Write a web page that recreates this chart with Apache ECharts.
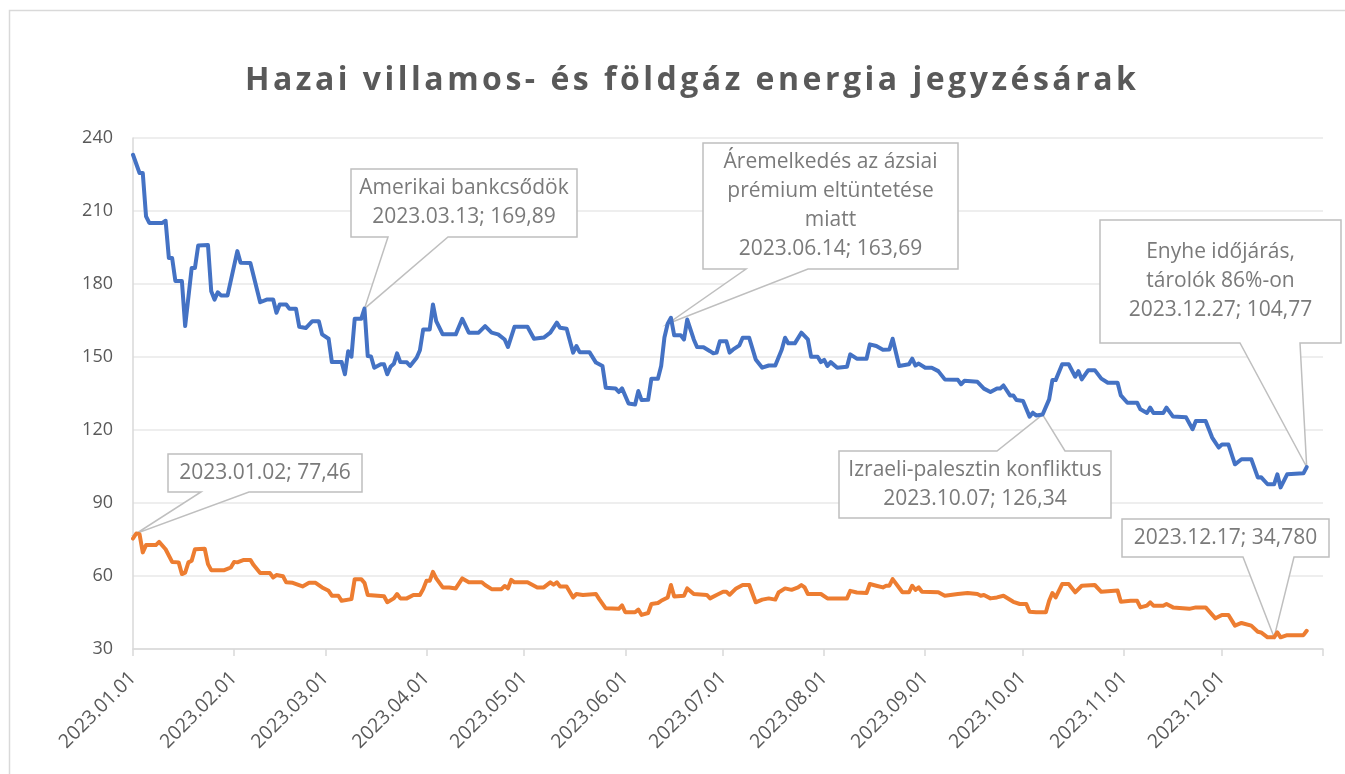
<!DOCTYPE html>
<html>
<head>
<meta charset="utf-8">
<script src="https://cdn.jsdelivr.net/npm/echarts@6/dist/echarts.min.js"></script>
<style>
html,body{margin:0;padding:0;background:#fff;}
#c{width:1345px;height:774px;}
</style>
</head>
<body>
<div id="c"></div>
<script>
// ---------------- DATA ----------------
const TITLE = 'Hazai villamos- és földgáz energia jegyzésárak';

// x axis: day of year 2023 (0 = 2023.01.01); ticks at month starts
const monthStartDays = [0, 31, 59, 90, 120, 151, 181, 212, 243, 273, 304, 334];
const monthLabels = ['2023.01.01','2023.02.01','2023.03.01','2023.04.01','2023.05.01','2023.06.01',
                     '2023.07.01','2023.08.01','2023.09.01','2023.10.01','2023.11.01','2023.12.01'];
const yearEndDay = 365;

// y axis ticks
const yMin = 30, yMax = 240, yStep = 30;

// Electricity price [day of year, value]
const electricity = [
 [0,233.1],[2,225.6],[3,225.6],[4,207.8],[5,205.1],[9,205.1],[10,206],[11,190.7],[12,190.7],[13,181.2],
 [15,181.2],[16,162.7],[18,186.6],[19,186.6],[20,195.8],[23,196],[24,177],[25,173.6],[26,176.6],[27,175.3],
 [29,175.3],[32,193.5],[33,188.7],[36,188.6],[39,172.5],[41,173.6],[43,173.6],[44,168.2],[45,171.6],[47,171.6],
 [48,169.8],[50,169.8],[51,162.4],[53,161.9],[55,164.7],[57,164.7],[58,159.3],[60,157.5],[61,147.9],[64,147.9],
 [65,142.9],[66,152.4],[67,150.1],[68,165.7],[70,165.7],[71,169.89],[72,150.4],[73,150.2],[74,145.6],[76,147],
 [77,147],[78,142.9],[79,146],[80,147.2],[81,151.5],[82,147.9],[84,147.8],[85,146.3],[87,149.7],[88,152.8],
 [89,161.3],[91,161.3],[92,171.6],[93,164.7],[95,159.3],[97,159.3],[99,159.3],[101,165.7],[103,160],[106,160],
 [108,162.7],[110,160],[112,159.3],[114,157.2],[115,154.1],[117,162.4],[121,162.4],[123,157.5],[126,158],[128,160],
 [130,164.1],[131,162],[133,161.6],[135,151.8],[136,154.5],[137,152],[140,152],[142,147.7],[144,146.3],[145,137.4],
 [148,137.1],[149,135.6],[150,137.1],[152,130.9],[154,130.5],[155,136],[156,132.3],[158,132.4],[159,141.1],[161,141.1],
 [162,146.3],[163,158],[164,163.69],[165,166.1],[166,158.9],[168,158.9],[169,157.2],[170,165.4],[172,157.2],[173,154.1],
 [175,154],[177,152.4],[178,151.5],[179,151.8],[180,156.5],[182,156.5],[183,151.8],[184,153],[186,154.8],[187,157.9],
 [189,157.9],[191,149],[193,145.6],[195,146.5],[197,146.5],[199,153.1],[200,157.9],[201,155.6],[203,155.6],[205,160],
 [207,157.2],[208,150.1],[210,150.1],[211,147.9],[212,148.8],[213,146.3],[214,147.9],[216,145.6],[219,146],[220,151.1],
 [222,149.3],[225,149.3],[226,155.2],[228,154.5],[230,153],[232,153.1],[233,157.5],[235,146.3],[238,147],[239,149.3],
 [240,146.5],[241,147.3],[243,145.6],[245,145.6],[247,144.2],[249,140.8],[253,140.6],[254,138.8],[255,140.2],[259,139.8],
 [261,137],[263,135.6],[265,137.1],[266,137.1],[267,138.3],[269,134.2],[270,134.2],[271,132.3],[273,131.9],[275,125.5],
 [276,127.1],[277,126],[279,126.34],[281,132.6],[282,140.5],[283,140.5],[285,147],[287,147],[289,141.9],[290,144.2],
 [291,140.8],[293,144.6],[295,144.6],[297,141.1],[299,139.4],[302,139.4],[303,134.2],[305,131.2],[308,131.2],[309,128.5],
 [311,127],[312,129.2],[313,127],[316,127],[317,129.2],[319,125.5],[323,125.2],[325,120.3],[326,123.7],[329,123.7],
 [331,116.9],[333,112.8],[334,114],[336,114],[338,105.9],[340,108],[343,108],[345,100.5],[346,100.6],[348,97.7],
 [350,97.7],[351,101.8],[352,96.4],[354,101.8],[359,102.2],[360,104.77]
];

// Natural gas price [day of year, value]
const gas = [
 [0,75.4],[1,77.46],[2,77.2],[3,69.7],[4,72.7],[7,72.7],[8,74],[10,71],[12,65.8],[14,65.6],
 [15,60.8],[16,61.4],[17,65.6],[18,66.3],[19,71],[22,71.2],[23,64.9],[24,62.4],[28,62.4],[30,63.5],
 [31,65.8],[32,65.6],[34,66.6],[36,66.6],[37,64.5],[39,61.2],[42,61.2],[43,59.4],[44,60.4],[46,59.9],
 [47,57.4],[49,57.2],[52,55.7],[54,57.2],[56,57.2],[58,55.3],[60,53.9],[61,51.9],[63,51.9],[64,49.8],
 [67,50.5],[68,58.7],[70,58.7],[71,57.2],[72,52.2],[75,51.9],[77,51.7],[78,49.2],[80,50.8],[81,52.6],
 [82,50.8],[84,50.8],[86,52.2],[88,52.2],[89,54.6],[90,58],[91,58],[92,61.7],[93,59],[95,55.3],
 [97,55.3],[99,54.9],[101,59],[103,57.4],[107,57.4],[108,56.3],[110,54.6],[113,54.6],[114,55.9],[115,54.9],
 [116,58.4],[117,57.4],[121,57.4],[124,55.3],[126,55.3],[128,57.4],[129,56.4],[130,57.4],[131,55.7],[133,55.7],
 [135,51.2],[136,52.6],[138,52.2],[142,52.6],[143,50.5],[145,46.7],[149,46.5],[150,47.9],[151,45.1],[154,45.1],
 [155,46.2],[156,44],[158,44.8],[159,48.5],[161,48.9],[162,49.8],[164,51.2],[165,56.3],[166,51.6],[169,51.9],
 [170,54.9],[172,52.6],[176,52.2],[177,50.8],[179,52.2],[181,53.5],[182,53.5],[183,52.3],[185,54.9],[187,56.3],
 [189,56.3],[191,49.2],[193,50.3],[195,50.8],[197,50.3],[198,53.2],[200,54.9],[202,54.3],[204,55.3],[205,56.3],
 [206,55.3],[207,52.6],[211,52.6],[213,50.8],[219,50.8],[220,53.9],[222,53.2],[225,53],[226,56.7],[228,56],
 [230,55.3],[231,56],[232,56],[233,58.7],[236,53.3],[238,53.3],[239,56],[240,54.3],[241,55.3],[242,53.5],
 [247,53.3],[249,51.9],[253,52.6],[256,53],[259,52.6],[260,51.9],[261,52.2],[263,50.8],[265,51.2],[267,51.9],
 [270,49.4],[272,48.5],[274,48.5],[275,45.3],[277,45.1],[280,45.1],[281,49.8],[282,53],[283,51.2],[285,56.7],
 [287,56.7],[289,53.3],[291,56],[295,56.3],[297,53.5],[302,54],[303,49.4],[306,49.8],[308,49.8],[309,47.1],
 [311,47.8],[312,49.2],[313,47.8],[316,47.8],[317,48.5],[319,47.1],[324,46.5],[326,47.1],[329,47.1],[332,42.6],
 [334,44],[336,44],[338,39.6],[340,40.7],[343,39.6],[345,37.1],[346,36.8],[348,34.8],[350,34.78],[351,36.8],
 [352,34.8],[354,35.7],[359,35.7],[360,37.5]
];

// Annotations (anchored on a data point)
const callouts = [
 {series:'electricity', day:71,  text:'Amerikai bankcsődök\n2023.03.13; 169,89'},
 {series:'electricity', day:164, text:'Áremelkedés az ázsiai\nprémium eltüntetése\nmiatt\n2023.06.14; 163,69'},
 {series:'electricity', day:360, text:'Enyhe időjárás,\ntárolók 86%-on\n2023.12.27; 104,77'},
 {series:'electricity', day:279, text:'Izraeli-palesztin konfliktus\n2023.10.07; 126,34'},
 {series:'gas',         day:1,   text:'2023.01.02; 77,46'},
 {series:'gas',         day:350, text:'2023.12.17; 34,780'}
];

// ---------------- LAYOUT / STYLE ----------------
// box: x, y, w, h; wedge side and the two base x positions on that side
const calloutLayout = [
 {x:351, y:169, w:226, h:68,  side:'bottom', b1:388,  b2:448},
 {x:703, y:143, w:255, h:126, side:'bottom', b1:746,  b2:808},
 {x:1100,y:220, w:241, h:123, side:'bottom', b1:1240, b2:1300},
 {x:839, y:451, w:272, h:67,  side:'top',    b1:997,  b2:1065},
 {x:168, y:454, w:194, h:38,  side:'bottom', b1:201,  b2:249},
 {x:1122,y:519, w:207, h:38,  side:'bottom', b1:1243, b2:1294}
];

const FONT = '"Open Sans", "DejaVu Sans", sans-serif';
const TITLE_SPACING = '3.5px';

// letter-spaced title (Excel style)
(function(){
  const proto = CanvasRenderingContext2D.prototype;
  const orig = proto.fillText;
  proto.fillText = function(t, x, y, mw){
    if (t === TITLE && 'letterSpacing' in this) {
      const prev = this.letterSpacing;
      this.letterSpacing = TITLE_SPACING;
      const r = mw === undefined ? orig.call(this, t, x, y) : orig.call(this, t, x, y, mw);
      this.letterSpacing = prev;
      return r;
    }
    return orig.apply(this, arguments);
  };
})();

const chart = echarts.init(document.getElementById('c'), null, {renderer:'canvas'});

chart.setOption({
  animation: false,
  backgroundColor: '#ffffff',
  title: {
    text: TITLE, left: 240, top: 60,
    textStyle: {fontFamily: FONT, fontWeight: 'bold', fontSize: 32, color: '#595959'}
  },
  grid: {left: 133, right: 22, top: 138, bottom: 125, outerBoundsMode: 'none', containLabel: false},
  xAxis: {
    type: 'value', min: 0, max: yearEndDay,
    axisLine: {show: true, lineStyle: {color: '#d9d9d9', width: 1.5}},
    axisTick: {show: true, customValues: monthStartDays.concat([yearEndDay]), length: 7,
               lineStyle: {color: '#d9d9d9', width: 1.5}},
    axisLabel: {
      customValues: monthStartDays,
      formatter: function(v){ const i = monthStartDays.indexOf(Math.round(v)); return i >= 0 ? monthLabels[i] : ''; },
      rotate: 45, margin: 26, fontFamily: FONT, fontSize: 19.5, color: '#595959'
    },
    splitLine: {show: false}
  },
  yAxis: {
    type: 'value', min: yMin, max: yMax, interval: yStep,
    axisLine: {show: true, lineStyle: {color: '#d9d9d9', width: 1.5}},
    axisTick: {show: false},
    axisLabel: {margin: 20, fontFamily: FONT, fontSize: 18, color: '#595959'},
    splitLine: {show: true, lineStyle: {color: '#e8e8e8', width: 1.5}}
  },
  series: [
    {type: 'line', name: 'Villamos energia', data: electricity, showSymbol: false, z: 4,
     lineStyle: {color: '#4472C4', width: 4, join: 'round', cap: 'round'}, itemStyle: {color: '#4472C4'}},
    {type: 'line', name: 'Földgáz', data: gas, showSymbol: false, z: 3,
     lineStyle: {color: '#ED7D31', width: 4, join: 'round', cap: 'round'}, itemStyle: {color: '#ED7D31'}}
  ]
});

// frame + callouts
const graphics = [{
  type: 'rect', silent: true, z: 0,
  shape: {x: 9.5, y: 10.5, width: 1400, height: 800},
  style: {fill: null, stroke: '#d9d9d9', lineWidth: 1.5}
}];

callouts.forEach(function(c, i){
  const L = calloutLayout[i];
  const src = c.series === 'electricity' ? electricity : gas;
  const pt = src.find(function(p){ return p[0] === c.day; });
  const a = chart.convertToPixel({gridIndex: 0}, [pt[0], pt[1]]);
  let pts;
  if (L.side === 'bottom') {
    pts = [[L.x, L.y], [L.x + L.w, L.y], [L.x + L.w, L.y + L.h], [L.b2, L.y + L.h], a, [L.b1, L.y + L.h], [L.x, L.y + L.h]];
  } else {
    pts = [[L.x, L.y], [L.b1, L.y], a, [L.b2, L.y], [L.x + L.w, L.y], [L.x + L.w, L.y + L.h], [L.x, L.y + L.h]];
  }
  graphics.push({
    type: 'polygon', silent: true, z: 1,
    shape: {points: pts},
    style: {fill: '#ffffff', stroke: '#bfbfbf', lineWidth: 1.5}
  });
  graphics.push({
    type: 'text', silent: true, z: 1,
    x: L.x + L.w / 2, y: L.y + L.h / 2,
    style: {text: c.text, fontFamily: FONT, fontSize: 21, fill: '#7a7a7a',
            align: 'center', verticalAlign: 'middle', lineHeight: 29}
  });
});

chart.setOption({graphic: graphics});
</script>
</body>
</html>
